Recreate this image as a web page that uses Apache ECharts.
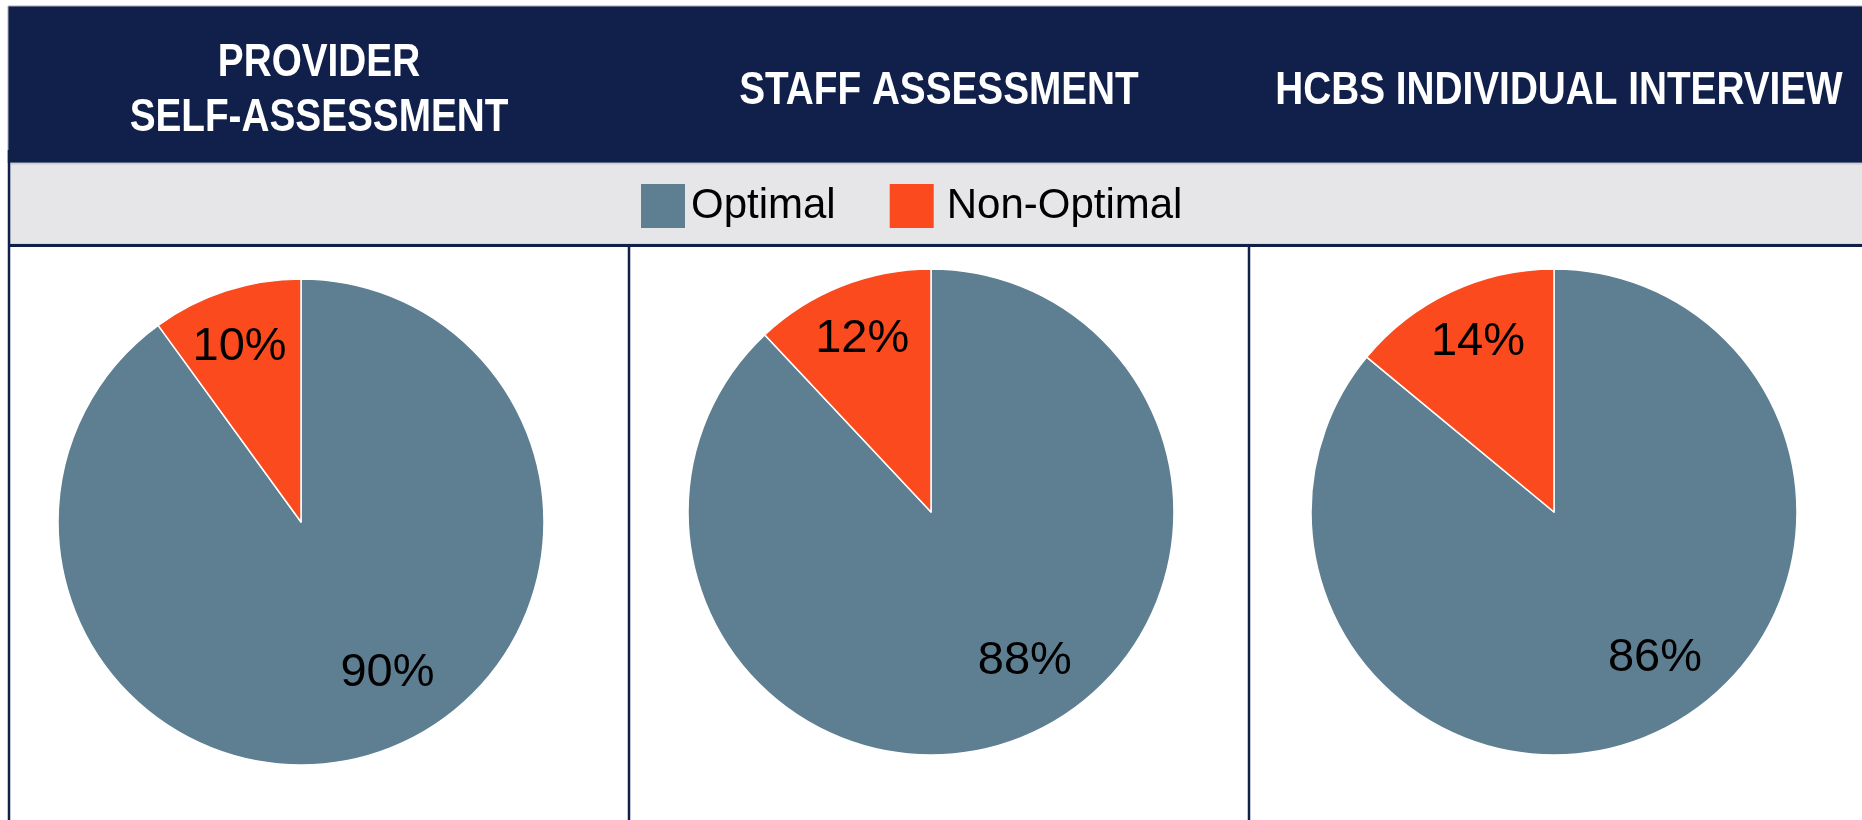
<!DOCTYPE html>
<html>
<head>
<meta charset="utf-8">
<script src="https://cdn.jsdelivr.net/npm/echarts@6/dist/echarts.min.js"></script>
<style>
  html, body { margin: 0; padding: 0; background: #fff; }
  #chart { width: 1862px; height: 820px; }
</style>
</head>
<body>
<div id="chart"></div>
<script>
// data
const panels = ['PROVIDER\nSELF-ASSESSMENT', 'STAFF ASSESSMENT', 'HCBS INDIVIDUAL INTERVIEW'];
const categories = ['Optimal', 'Non-Optimal'];
const optimal = [90, 88, 86];
const nonOptimal = [10, 12, 14];

const COLORS = ['#5E7F92', '#FA4A1E'];
const NAVY = '#10204B';
const COL_W = 620;
const COL_X0 = 9;
const pieCenters = [[301, 522], [931, 512], [1554, 512]];

const chart = echarts.init(document.getElementById('chart'), null, { renderer: 'canvas' });

const graphics = [
  // header band
  { type: 'rect', z: -10, shape: { x: 8, y: 6, width: 1860, height: 157 },
    style: { fill: NAVY, stroke: '#A9AEBB', lineWidth: 1 } },
  // legend band
  { type: 'rect', z: -10, shape: { x: 10, y: 164, width: 1860, height: 80 },
    style: { fill: '#E6E6E8', stroke: '#C9CAD0', lineWidth: 1 } },
  { type: 'line', z: -5, shape: { x1: 8, y1: 245.5, x2: 1862, y2: 245.5 },
    style: { stroke: NAVY, lineWidth: 3 } },
  { type: 'line', z: -5, shape: { x1: 9, y1: 150, x2: 9, y2: 820 },
    style: { stroke: NAVY, lineWidth: 2.5 } }
];
for (let i = 1; i < panels.length; i++) {
  const x = COL_X0 + i * COL_W;
  graphics.push({ type: 'line', z: -5, shape: { x1: x, y1: 245, x2: x, y2: 820 },
    style: { stroke: NAVY, lineWidth: 2.5 } });
}
// titles: no narrow font installed, so squeeze a bold sans horizontally
panels.forEach((t, i) => {
  graphics.push({
    type: 'text', z: 5,
    x: COL_X0 + i * COL_W + COL_W / 2, y: 91,
    scaleX: 0.824,
    style: {
      text: t, fill: '#fff', align: 'center', verticalAlign: 'middle',
      fontFamily: '"Liberation Sans", Arial, sans-serif',
      fontWeight: 'bold', fontSize: 47, lineHeight: 55
    }
  });
});

const series = panels.map((p, i) => ({
  name: p,
  type: 'pie',
  center: pieCenters[i],
  radius: 243,
  startAngle: 90,
  clockwise: true,
  silent: true,
  itemStyle: { borderColor: '#fff', borderWidth: 1.5 },
  label: {
    show: true,
    position: 'inside',
    formatter: '{c}%',
    color: '#000',
    fontFamily: '"Liberation Sans", Arial, sans-serif',
    fontSize: 47
  },
  labelLine: { show: false },
  labelLayout: (params) => params.dataIndex === 0 ? { dx: 48, dy: 33 } : { dx: -23, dy: -57 },
  data: [
    { name: categories[0], value: optimal[i], itemStyle: { color: COLORS[0] } },
    { name: categories[1], value: nonOptimal[i], itemStyle: { color: COLORS[1] } }
  ]
}));

chart.setOption({
  animation: false,
  color: COLORS,
  graphic: graphics,
  legend: {
    data: [
      { name: categories[0] },
      { name: categories[1], textStyle: { padding: [0, 0, 0, 8] } }
    ],
    left: 641,
    top: 184,
    icon: 'rect',
    itemWidth: 44,
    itemHeight: 44,
    itemGap: 54,
    padding: 0,
    selectedMode: false,
    itemStyle: { borderWidth: 0 },
    textStyle: {
      color: '#000',
      fontFamily: '"Liberation Sans", Arial, sans-serif',
      fontSize: 42,
      lineHeight: 44,
      padding: [0, 0, 0, 1]
    }
  },
  series: series
});
</script>
</body>
</html>
